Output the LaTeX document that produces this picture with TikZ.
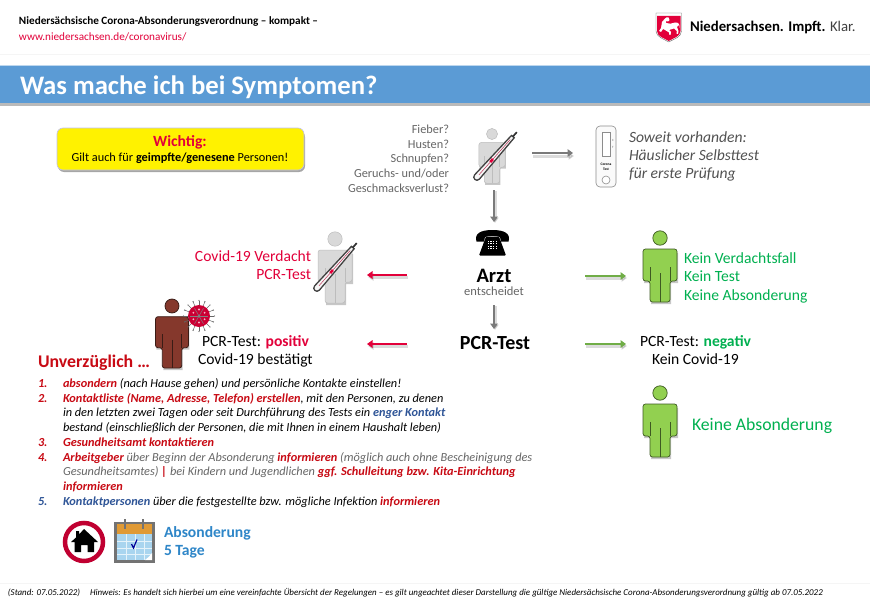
\documentclass[tikz,border=0pt]{standalone}
\usepackage{fontspec}
\setmainfont{Carlito}
\usetikzlibrary{arrows.meta,shadows,calc}
\definecolor{barblue}{HTML}{5B9BD5}
\definecolor{hdred}{HTML}{E2003A}
\definecolor{dred}{HTML}{C80A14}
\definecolor{kblue}{HTML}{2F5597}
\definecolor{tgrey}{HTML}{666666}
\definecolor{tgreen}{HTML}{00B050}
\definecolor{agreen}{HTML}{70AD47}
\definecolor{pgreen}{HTML}{92D050}
\definecolor{pgreenl}{HTML}{3E5A22}
\definecolor{pred}{HTML}{85382C}
\definecolor{predl}{HTML}{3A1C16}
\definecolor{pgrey}{HTML}{D9D9D9}
\definecolor{pgreyl}{HTML}{BDBDBD}
\definecolor{ablue}{HTML}{2E86C8}
\definecolor{calblue}{HTML}{A9D5EF}
\definecolor{calorange}{HTML}{E09A35}
\newcommand{\sz}[1]{\fontsize{#1}{#1}\selectfont}
\newcommand{\personfig}[6]{%
 \begin{scope}[shift={(#1,#2)},scale=#3]
  \fill[black,opacity=.22] (-16,15) -- (18,15) -- (18,45) -- (11,45) -- (11,66) -- (-9,66) -- (-9,45) -- (-16,45) -- cycle;
  \path[fill=#4,draw=#5,line width=#6] (0,0) circle (7.2);
  \path[fill=#4,draw=#5,line width=#6,rounded corners=2.5pt] (-17,43) -- (-17,11) -- (17,11) -- (17,43) -- (10,43) -- (10,64) -- (-10,64) -- (-10,43) -- cycle;
  \draw[#5,line width=#6] (-10,29) -- (-10,43) (10,29) -- (10,43) (0,35) -- (0,64);
 \end{scope}}
\newcommand{\thermofig}[3]{%
 \begin{scope}[shift={(#1,#2)},rotate=#3]
 \path[therm] (0,-3.2) -- (54,-1.8) -- (54,1.8) -- (0,3.2) .. controls (-4.3,3.2) and (-4.3,-3.2) .. (0,-3.2) -- cycle;
 \draw[hdred!60!gray,line width=.5pt] (3,0) -- (50,0);
 \fill[hdred] (20,-1.3) rectangle (24,1.3);
 \draw[black!80,line width=1.7pt] (54,0) -- (60,0);
 \end{scope}}
\tikzset{
 lab/.style={inner sep=0pt,outer sep=0pt,anchor=base west},
 labr/.style={inner sep=0pt,outer sep=0pt,anchor=base east},
 labc/.style={inner sep=0pt,outer sep=0pt,anchor=base},
 garrow/.style={line width=2.8pt,-{Triangle[length=5.5pt,width=7.5pt]},color=#1},
 sarrow/.style={line width=3pt,-{Triangle[length=5.5pt,width=7.5pt]},color=black,opacity=.14},
 therm/.style={draw=black!75,line width=1.3pt,fill=white!92!gray,line cap=round},
}
\begin{document}
\begin{tikzpicture}[x=1pt,y=-1pt]
\useasboundingbox (0,0) rectangle (870,602);
\fill[white] (0,0) rectangle (870,602);
% header
\draw[black!4,line width=.8pt] (0,54) -- (870,54);
\draw[black!4,line width=.8pt] (0,583) -- (870,583);
\node[lab] (hd1) at (19,25) {\sz{11.2}\bfseries Niedersächsische Corona-Absonderungsverordnung – kompakt –};
\node[lab,text=hdred] (hd2) at (19,41) {\sz{11.2}www.niedersachsen.de/coronavirus/};
% crest
\begin{scope}[shift={(656,13)}]
 \draw[black!60,fill=white,line width=.4pt] (0,0) -- (25.5,0) -- (25.5,18) .. controls (25.5,24) and (18,26) .. (12.7,29) .. controls (8,26) and (0,24) .. (0,18) -- cycle;
 \fill[hdred] (1,3) -- (24.5,3) -- (24.5,18) .. controls (24.5,23.5) and (17.5,25) .. (12.7,28) .. controls (8,25) and (1,23.5) .. (1,18) -- cycle;
 \fill[white,line join=round] (3,18) -- (5,15) -- (6,9) -- (9,5.5) .. controls (10,4) and (12,4) .. (12.5,4.5) -- (13.5,7) -- (12,8.5) -- (10,8) -- (10,10) .. controls (13,11) and (16,11) .. (19,9.5) .. controls (22,9) and (24,11) .. (23.5,15) -- (22.5,12) -- (21,14) -- (22.5,18) -- (22,21) -- (20.5,21) -- (20.8,18) -- (18,15.5) -- (13,17) -- (15,19) -- (14.5,22) -- (13,21.5) -- (13,19.5) -- (9,17) -- (7,16) -- (5,19) -- cycle;
\end{scope}
\node[lab] (logo) at (690,32) {\sz{14.8}\textbf{Niedersachsen. Impft.} {\color{black!75}Klar.}};
% title bar
\fill[black!45,opacity=.6] (0,103) rectangle (870,105.5);
\fill[barblue] (0,66) rectangle (870,103);
\draw[barblue!40,line width=.6pt] (0,65.6) -- (870,65.6);
\node[lab,text=white] (title) at (20,94) {\sz{26.7}\bfseries Was mache ich bei Symptomen?};
% Wichtig
\fill[black,opacity=.35,rounded corners=6pt] (58,131) rectangle (305,172);
\draw[fill=yellow,draw=black!25!blue!25!white,line width=.6pt,rounded corners=6pt] (57,128) rectangle (304,170);
\node[labc,text=hdred] (w1) at (180,146.5) {\sz{15.6}\bfseries Wichtig:};
\node[labc] (w2) at (180,161) {\sz{12.3}Gilt auch für \textbf{geimpfte/genesene} Personen!};
% symptoms
\foreach \n/\t/\y in {s1/Fieber?/133,s2/Husten?/148,s3/Schnupfen?/162,s4/{Geruchs- und/oder}/177,s5/Geschmacksverlust?/192}
  \node[labr,text=tgrey] (\n) at (449,\y) {\sz{12.3}\t};
\personfig{492}{134}{.77}{pgrey}{pgreyl}{.5pt}
\thermofig{477}{177}{48.4}
% self test
\coordinate (sy) at (532,153);
\coordinate (st) at (573,153);
\draw[sarrow] ($(sy)+(1,3)$) -- ($(st)+(1,3)$);
\draw[garrow=black!52] (sy) -- (st);
\draw[fill=black!2,draw=black!45,line width=.6pt,rounded corners=4pt] (596,126) rectangle (616,187);
\draw[fill=white,draw=black!45,line width=.6pt] (602,132.5) rectangle (610,156);
\draw[fill=white,draw=black!45,line width=.6pt] (606,180) circle (4);
\node[labc] (tc1) at (606,165.5) {\sz{3.6}\bfseries Corona};
\node[labc] (tc2) at (606,170) {\sz{3.6}\bfseries Test};
\node[labc,text=tgrey] (tc3) at (613,141) {\sz{3.2}C};
\node[labc,text=tgrey] (tc4) at (613,148) {\sz{3.2}T};
\node[lab,text=black!68] (v1) at (629,142) {\sz{15.6}\itshape Soweit vorhanden:};
\node[lab,text=black!68] (v2) at (629,160) {\sz{15.6}\itshape Häuslicher Selbsttest};
\node[lab,text=black!68] (v3) at (629,178) {\sz{15.6}\itshape für erste Prüfung};
% phone
\coordinate (a1) at (494,190);
\coordinate (a2) at (494,222);
\draw[sarrow] ($(a1)+(1,1)$) -- ($(a2)+(1,1)$);
\draw[garrow=black!52] (a1) -- (a2);
\begin{scope}[shift={(476,230)}]
 \fill[black] (0,9) .. controls (-.5,1) and (10,0) .. (16.5,0) .. controls (23,0) and (33.5,1) .. (33,9) -- (32.5,11.5) -- (25,11.5) -- (24,7) .. controls (20,5.5) and (13,5.5) .. (9,7) -- (8,11.5) -- (.5,11.5) -- cycle;
 \fill[black,rounded corners=1pt] (10,6.5) -- (23,6.5) -- (30,25.5) -- (3,25.5) -- cycle;
 \foreach \i in {0,1,2,3} \foreach \j in {0,1,2,3}
   \fill[white] (11.5+\i*2.7,10.5+\j*2.5) rectangle +(1.5,1.4);
\end{scope}
\node[labc] (arzt) at (494,282) {\sz{20.5}\bfseries Arzt};
\node[labc,text=tgrey] (ent) at (494,295) {\sz{12.5}entscheidet};
\node[labc] (pcr) at (495,349.5) {\sz{20}\bfseries PCR-Test};
\coordinate (a3) at (494,305);
\coordinate (a4) at (494,329);
\draw[sarrow] ($(a3)+(1,1)$) -- ($(a4)+(1,1)$);
\draw[garrow=black!52] (a3) -- (a4);
% suspicion left
\personfig{335}{239}{1}{pgrey}{pgreyl}{.5pt}
\thermofig{317}{288}{48.5}
\node[labr,text=hdred] (cv1) at (311,261) {\sz{15.6}Covid-19 Verdacht};
\node[labr,text=hdred] (cv2) at (311,279) {\sz{15.6}PCR-Test};
\coordinate (r1) at (407,275);
\coordinate (r2) at (367,275);
\draw[sarrow] ($(r1)+(1,2)$) -- ($(r2)+(1,2)$);
\draw[garrow=hdred] (r1) -- (r2);
\coordinate (r3) at (407,344);
\coordinate (r4) at (367,344);
\draw[sarrow] ($(r3)+(1,2)$) -- ($(r4)+(1,2)$);
\draw[garrow=hdred] (r3) -- (r4);
% positive
\personfig{172}{306}{.97}{pred}{predl}{.8pt}
\begin{scope}[shift={(199,316)}]
 \foreach \a in {0,22.5,...,337.5} {
   \draw[black!60,line width=.5pt] (\a:10) -- (\a:15);
   \fill[black!60] (\a:15.5) circle (.7);
 }
 \fill[hdred!90!black] (0,0) circle (11);
 \foreach \a in {0,60,...,300} \draw[black!50,line width=.5pt] (0,0) -- (\a:9);
 \foreach \a in {30,90,...,330} \fill[white!70!hdred] (\a:6.5) circle (1.1);
 \fill[black!50] (0,0) circle (1.5);
\end{scope}
\node[lab] (pp1) at (202,346) {\sz{15.6}PCR-Test: \textcolor{hdred}{\bfseries positiv}};
\node[lab] (pp2) at (198,364) {\sz{15.6}Covid-19 bestätigt};
\node[lab,text=dred] (unv) at (38,367) {\sz{17.8}\bfseries Unverzüglich\ …};
% list
\newcommand{\listnum}[4]{\node[lab,text=#4] (#1) at (38,#2) {\sz{12.3}\bfseries\itshape #3};}
\listnum{n1}{387}{1.}{dred}
\listnum{n2}{402}{2.}{dred}
\listnum{n3}{446}{3.}{dred}
\listnum{n4}{461}{4.}{dred}
\listnum{n5}{505}{5.}{kblue}
\tikzset{li/.style={lab,font=\sz{12.3}\itshape}}
\node[li] (l1) at (63,387) {\textcolor{dred}{\bfseries absondern} (nach Hause gehen) und persönliche Kontakte einstellen!};
\node[li] (l2) at (63,402) {\textcolor{dred}{\bfseries Kontaktliste (Name, Adresse, Telefon) erstellen}, mit den Personen, zu denen};
\node[li] (l3) at (63,416.5) {in den letzten zwei Tagen oder seit Durchführung des Tests ein \textcolor{kblue}{\bfseries enger Kontakt}};
\node[li] (l4) at (63,431) {bestand (einschließlich der Personen, die mit Ihnen in einem Haushalt leben)};
\node[li,text=dred] (l5) at (63,446) {\bfseries Gesundheitsamt kontaktieren};
\node[li,text=tgrey] (l6) at (63,461) {\textcolor{dred}{\bfseries Arbeitgeber} über Beginn der Absonderung \textcolor{dred}{\bfseries informieren} (möglich auch ohne Bescheinigung des};
\node[li,text=tgrey] (l7) at (63,475.5) {Gesundheitsamtes) \textcolor{dred}{\bfseries |} bei Kindern und Jugendlichen \textcolor{dred}{\bfseries ggf. Schulleitung bzw. Kita-Einrichtung}};
\node[li,text=dred] (l8) at (63,490) {\bfseries informieren};
\node[li] (l9) at (63,505) {\textcolor{kblue}{\bfseries Kontaktpersonen} über die festgestellte bzw. mögliche Infektion \textcolor{dred}{\bfseries informieren}};
% house sign
\draw[hdred!85!black,line width=4.5pt,fill=white] (84,542) circle (19);
\fill[black] (84,529) -- (98,542) -- (94,542) -- (94,552) -- (87.5,552) -- (87.5,545) -- (81,545) -- (81,552) -- (74.5,552) -- (74.5,542) -- (71,542) -- (76,537.5) -- (76,531) -- (79,531) -- (79,534.5) -- cycle;
% calendar
\fill[black!55] (114,522) rectangle (155,563);
\fill[calorange] (117,524) rectangle (152,534);
\fill[calblue] (117,534) rectangle (152,560);
\foreach \x in {126,135,144} \draw[white!70!calblue,line width=.8pt] (\x,534) -- (\x,560);
\foreach \y in {541,548,554} \draw[white!70!calblue,line width=.8pt] (117,\y) -- (152,\y);
\draw[black!55,line width=1.1pt] (125,519) -- (125,529) (143,519) -- (143,529);
\draw[blue!60!black,line width=1.2pt] (131.5,544) -- (133.5,548) -- (137,539.5);
\fill[white] (152,553) -- (152,560) -- (145,560) .. controls (148,558) and (150,556) .. (152,553) -- cycle;
\node[lab,text=ablue] (ab1) at (164,537) {\sz{15.6}\bfseries Absonderung};
\node[lab,text=ablue] (ab2) at (164,555) {\sz{15.6}\bfseries 5 Tage};
% right side
\coordinate (g1) at (585,276);
\coordinate (g2) at (626,276);
\draw[sarrow] ($(g1)+(1,2)$) -- ($(g2)+(1,2)$);
\draw[garrow=agreen] (g1) -- (g2);
\coordinate (g3) at (585,344);
\coordinate (g4) at (626,344);
\draw[sarrow] ($(g3)+(1,2)$) -- ($(g4)+(1,2)$);
\draw[garrow=agreen] (g3) -- (g4);
\personfig{660}{238}{1}{pgreen}{pgreenl}{.7pt}
\personfig{660}{393}{1}{pgreen}{pgreenl}{.7pt}
\node[lab,text=tgreen] (k1) at (684,263) {\sz{15.6}Kein Verdachtsfall};
\node[lab,text=tgreen] (k2) at (684,281) {\sz{15.6}Kein Test};
\node[lab,text=tgreen] (k3) at (684,300) {\sz{15.6}Keine Absonderung};
\node[lab] (n1x) at (640,346) {\sz{15.6}PCR-Test: \textcolor{tgreen}{\bfseries negativ}};
\node[lab] (n2x) at (652,364) {\sz{15.6}Kein Covid-19};
\node[lab,text=tgreen] (k4) at (692,430) {\sz{17.7}Keine Absonderung};
% footer
\node[lab] (f1) at (8,595) {\sz{8.95}\itshape (Stand: 07.05.2022)};
\node[lab] (f2) at (90,595) {\sz{8.95}\itshape Hinweis: Es handelt sich hierbei um eine vereinfachte Übersicht der Regelungen – es gilt ungeachtet dieser Darstellung die gültige Niedersächsische Corona-Absonderungsverordnung gültig ab 07.05.2022};
\end{tikzpicture}
\end{document}
